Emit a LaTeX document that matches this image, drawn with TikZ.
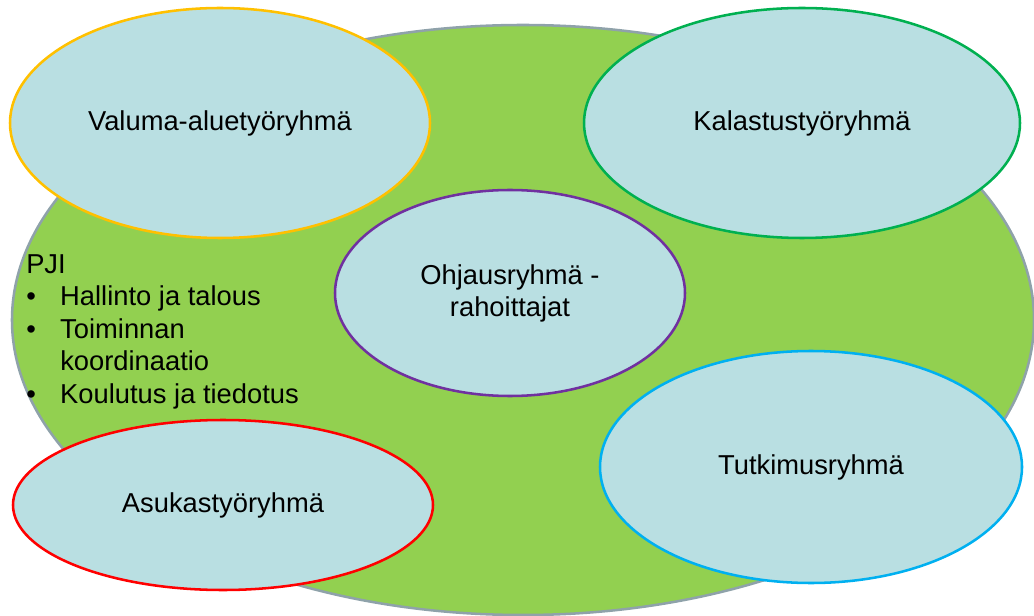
\documentclass[tikz,border=0pt]{standalone}
\usepackage{fontspec}
\setmainfont{Liberation Sans}
\usetikzlibrary{shapes.geometric,positioning}

\definecolor{kentta}{HTML}{92D050}
\definecolor{reuna}{HTML}{8FA2AA}
\definecolor{pallo}{HTML}{B9DFE2}
\definecolor{oranssi}{HTML}{FFC000}
\definecolor{vihrea}{HTML}{00B050}
\definecolor{violetti}{HTML}{7030A0}
\definecolor{syaani}{HTML}{00B0F0}
\definecolor{punainen}{HTML}{FF0000}

\newcommand{\luettelo}[1]{\makebox[25.5pt][l]{\textbullet}#1}

\begin{document}
\begin{tikzpicture}[x=0.75pt,y=-0.75pt,
    ryhma/.style={ellipse,draw,fill=pallo,line width=1.9pt,inner sep=0pt,
      font=\fontsize{20.5}{24}\selectfont,align=center}]
  \useasboundingbox (0,0) rectangle (1034,616);
  % iso kentta
  \node[ellipse,draw=reuna,fill=kentta,line width=1.9pt,
    minimum width=766.5pt,minimum height=442.5pt] (kentta) at (523,320) {};
  % ryhmat
  \node[ryhma,draw=oranssi,minimum width=315pt,minimum height=172.5pt]
    (valuma) at (220,123) {Valuma-aluetyöryhmä};
  \node[ryhma,draw=vihrea,minimum width=327pt,minimum height=172.5pt]
    (kalastus) at (802,123) {Kalastustyöryhmä};
  \node[ryhma,draw=violetti,minimum width=262.5pt,minimum height=154.5pt]
    (ohjaus) at (510,293) {Ohjausryhmä -\\rahoittajat};
  \node[ryhma,draw=syaani,minimum width=316.5pt,minimum height=174pt]
    (tutkimus) at (811,467) {Tutkimusryhmä};
  \node[ryhma,draw=punainen,minimum width=315pt,minimum height=127.5pt]
    (asukas) at (223,505) {Asukastyöryhmä};
  % PJI
  \node[anchor=north west,inner sep=0pt,align=left,
    font=\fontsize{20.5}{24.4}\selectfont] (pji) at (26,254)
    {PJI\\
     \luettelo{Hallinto ja talous}\\
     \luettelo{Toiminnan}\\
     \hspace*{25.5pt}koordinaatio\\
     \luettelo{Koulutus ja tiedotus}};
\end{tikzpicture}
\end{document}
